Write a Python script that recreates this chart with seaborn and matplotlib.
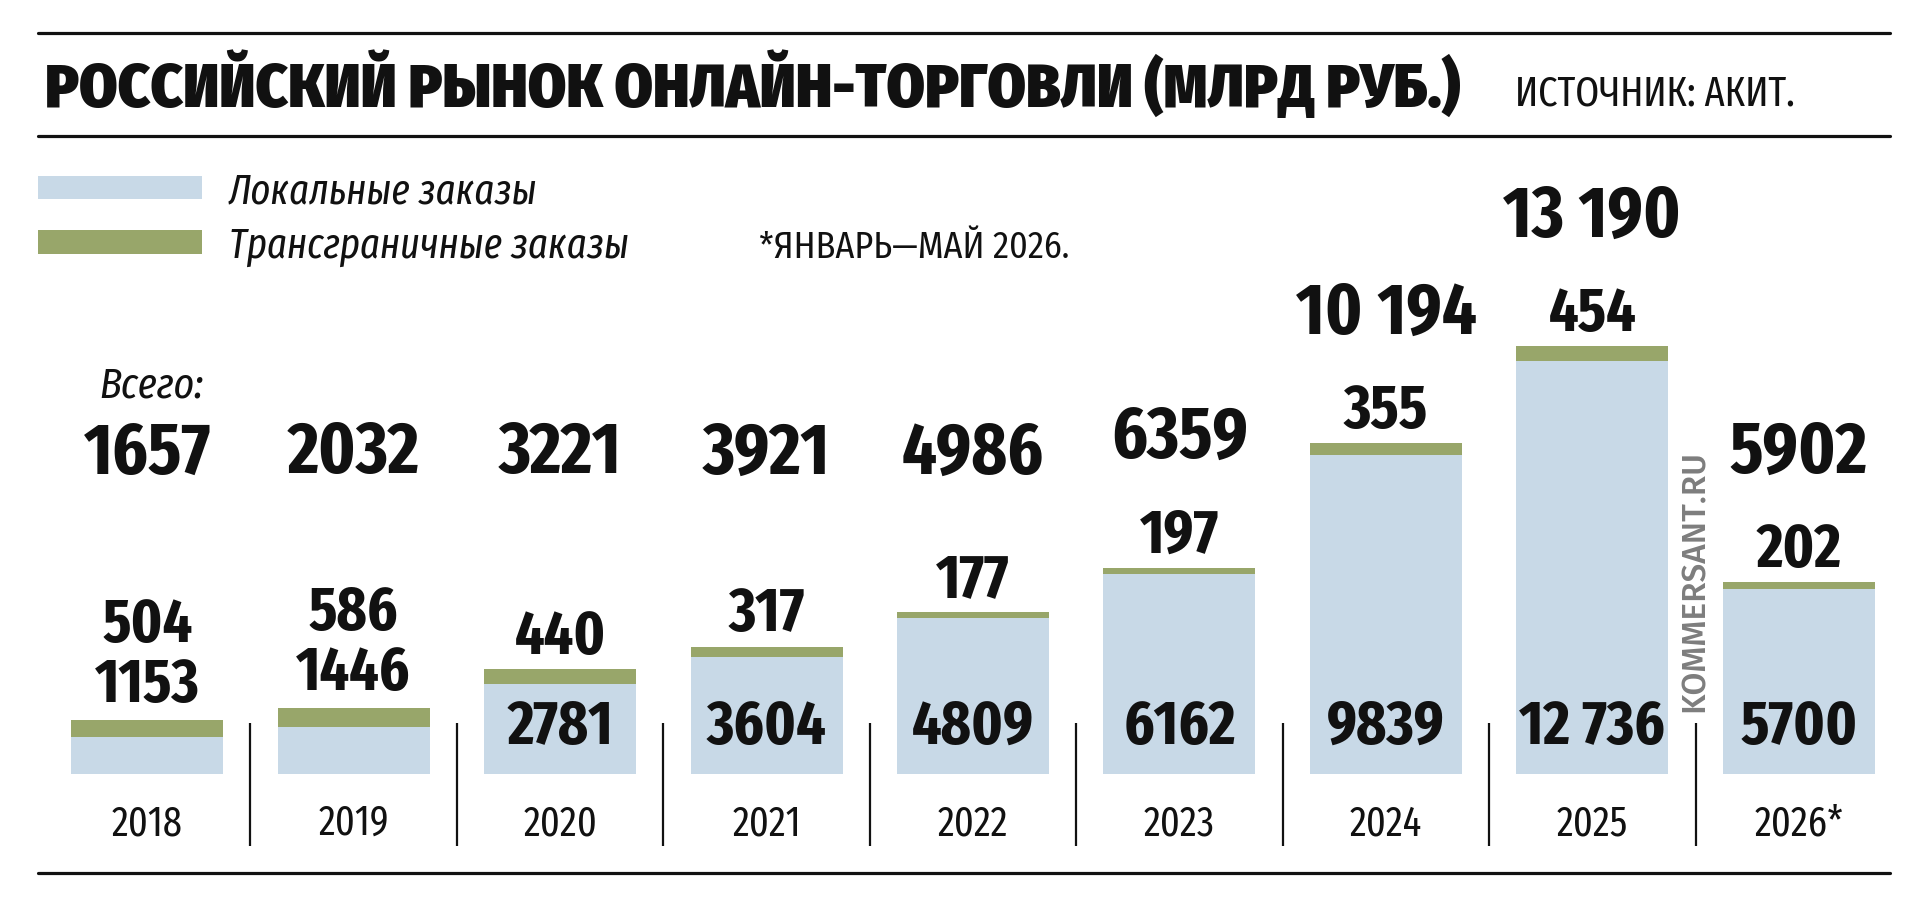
import matplotlib
matplotlib.use("Agg")
import matplotlib.pyplot as plt
from matplotlib.lines import Line2D
import seaborn as sns
import pandas as pd

# ---------------- data ----------------
years = ["2018", "2019", "2020", "2021", "2022", "2023", "2024", "2025", "2026*"]
local_orders = [1153, 1446, 2781, 3604, 4809, 6162, 9839, 12736, 5700]
cross_border = [504, 586, 440, 317, 177, 197, 355, 454, 202]

title = "РОССИЙСКИЙ РЫНОК ОНЛАЙН-ТОРГОВЛИ (МЛРД РУБ.)"
source = "ИСТОЧНИК: АКИТ."
legend_labels = ["Локальные заказы", "Трансграничные заказы"]
footnote = "*ЯНВАРЬ—МАЙ 2026."
total_caption = "Всего:"
watermark = "KOMMERSANT.RU"

totals = [a + b for a, b in zip(local_orders, cross_border)]
df = pd.DataFrame({"year": years, "local": local_orders, "cross": cross_border, "total": totals})

# ---------------- fonts ----------------
sns.set_theme(style="white")
XC = ["Fira Sans Extra Condensed", "Fira Sans Condensed", "DejaVu Sans"]
CO = ["Fira Sans Condensed", "Fira Sans Extra Condensed", "DejaVu Sans"]
WIDE = ["Fira Sans", "Liberation Sans", "DejaVu Sans"]
plt.rcParams["font.family"] = XC

BLUE = "#c8d9e7"
GREEN = "#98a66a"
INK = "#111111"

W, H = 1920, 906
fig = plt.figure(figsize=(W / 100, H / 100), dpi=100)

def fx(px):
    return px / W

def fy(py):
    return 1 - py / H

# axes: bottom at y=873px, top at 125px; value 0 sits at 774px
ax = fig.add_axes([fx(44), fy(873), fx(1902 - 44), (873 - 125) / H])
YMIN, YMAX = -3050, 20000
K = (873 - 125) / (YMAX - YMIN)  # px per data unit

sns.barplot(data=df, x="year", y="total", color=GREEN, saturation=1,
            width=0.736, ax=ax, linewidth=0)
sns.barplot(data=df, x="year", y="local", color=BLUE, saturation=1,
            width=0.736, ax=ax, linewidth=0)
ax.set_xlim(-0.5, len(years) - 0.5)
ax.set_ylim(YMIN, YMAX)
ax.axis("off")

def d(px):
    return px / K

def fmt(v):
    return f"{v:,}".replace(",", "\u2009") if v >= 10000 else str(v)

CAPR = 0.689  # cap height / em (Fira)
BIG = 53
MID = 45
CAP_BIG = BIG * 100 / 72 * CAPR
CAP_MID = MID * 100 / 72 * CAPR

bold_kw = dict(ha="center", va="baseline", fontweight="bold", color=INK, family=XC)

for i, (loc, cr, tot) in enumerate(zip(local_orders, cross_border, totals)):
    top = tot
    if loc * K < 60:
        loc_c = top + d(40)
        cr_c = top + d(100)
    else:
        loc_c = d(52)
        cr_c = top + d(37)
    tot_c = max(d(326), cr_c + d(98))
    ax.text(i, loc_c - d(CAP_MID / 2), fmt(loc), fontsize=MID, **bold_kw)
    ax.text(i, cr_c - d(CAP_MID / 2), fmt(cr), fontsize=MID, **bold_kw)
    ax.text(i, tot_c - d(CAP_BIG / 2), fmt(tot), fontsize=BIG, **bold_kw)
    # year label
    ax.text(i, -d(61), years[i], ha="center", va="baseline", fontsize=30,
            fontweight="normal", color=INK, family=XC)
    # divider between categories
    if i < len(years) - 1:
        ax.plot([i + 0.5, i + 0.5], [-d(72), d(51)], color=INK, lw=1.6,
                solid_capstyle="butt")

# ---------------- header ----------------
for y in (33, 136, 873):
    fig.add_artist(Line2D([fx(38), fx(1890)], [fy(y), fy(y)], color=INK, lw=2.3))

fig.text(fx(45), fy(107), title, fontsize=44, fontweight="black", color=INK,
         va="baseline", ha="left", family=CO)
fig.text(fx(1515), fy(106), source, fontsize=30, fontweight="normal", color=INK,
         va="baseline", ha="left", family=XC)

# legend
for (y0, y1), col, lab in zip([(176, 199), (230, 254)], [BLUE, GREEN], legend_labels):
    fig.add_artist(plt.Rectangle((fx(38), fy(y1)), fx(202 - 38), (y1 - y0) / H,
                                 color=col, lw=0, transform=fig.transFigure))
    fig.text(fx(229), fy(y1 + 4), lab, fontsize=30, style="italic", fontweight="normal",
             color=INK, va="baseline", ha="left", family=XC)

fig.text(fx(759), fy(258), footnote, fontsize=26, fontweight="normal", color=INK,
         va="baseline", ha="left", family=CO)

fig.text(fx(99), fy(397), total_caption, fontsize=31, style="italic", fontweight="normal",
         color=INK, va="baseline", ha="left", family=XC)

fig.text(fx(1695), fy(581), watermark, fontsize=24, color="#7d7d7d",
         rotation=90, ha="center", va="center", fontweight="medium", family=WIDE)

fig.savefig("out.png", dpi=100, facecolor="white")
